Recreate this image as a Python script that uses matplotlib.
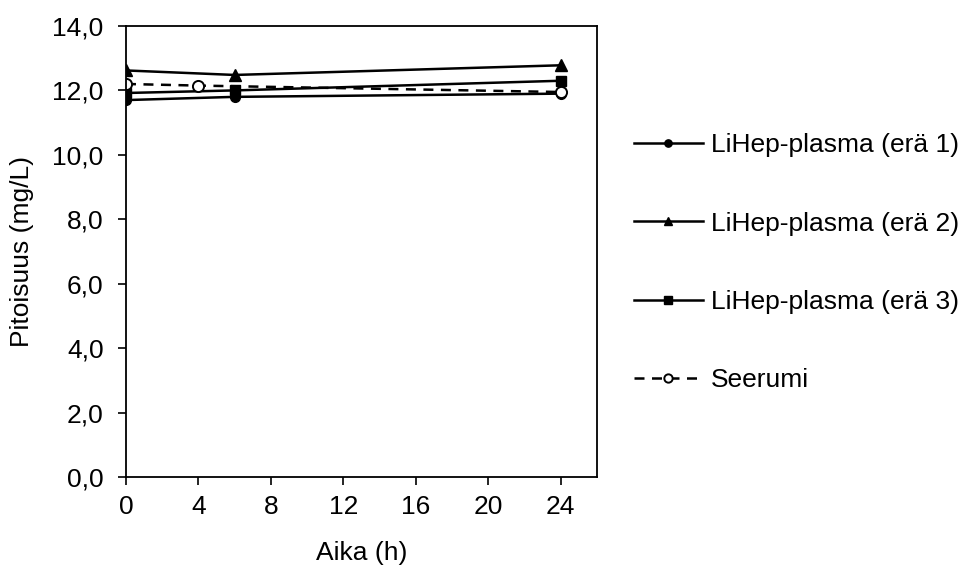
import matplotlib
matplotlib.use('Agg')
import matplotlib.pyplot as plt
from matplotlib.ticker import FuncFormatter

plt.rcParams['font.family'] = ['Liberation Sans', 'DejaVu Sans']

t_plasma = [0, 6, 24]
era1 = [11.70, 11.80, 11.90]
era2 = [12.62, 12.48, 12.78]
era3 = [11.92, 12.00, 12.30]

t_serum = [0, 4, 24]
seerumi = [12.20, 12.15, 11.95]

fig = plt.figure(figsize=(9.63, 5.65), dpi=100)
ax = fig.add_axes([0.1308, 0.1558, 0.4891, 0.7982])

ax.plot(t_plasma, era1, color='black', lw=1.8, marker='o', ms=7, label='LiHep-plasma (erä 1)')
ax.plot(t_plasma, era2, color='black', lw=1.8, marker='^', ms=8, label='LiHep-plasma (erä 2)')
ax.plot(t_plasma, era3, color='black', lw=1.8, marker='s', ms=7, label='LiHep-plasma (erä 3)')
ax.plot(t_serum, seerumi, color='black', lw=1.8, ls=(0, (4, 3)), marker='o', ms=8,
        mfc='white', mec='black', mew=1.4, label='Seerumi')

ax.set_xlim(0, 26)
ax.set_ylim(0, 14)
ax.set_xticks(range(0, 25, 4))
ax.set_yticks([0, 2, 4, 6, 8, 10, 12, 14])
ax.yaxis.set_major_formatter(FuncFormatter(lambda v, p: f'{v:.1f}'.replace('.', ',')))
ax.tick_params(direction='out', length=6, width=1.2, labelsize=19, colors='black')
ax.tick_params(axis='x', pad=7)
ax.tick_params(axis='y', pad=10)
for s in ax.spines.values():
    s.set_linewidth(1.3)

ax.set_xlabel('Aika (h)', fontsize=19, labelpad=16)
ax.set_ylabel('Pitoisuus (mg/L)', fontsize=19, labelpad=13)

ax.legend(loc='upper left', bbox_to_anchor=(1.0786, 0.762), frameon=False, fontsize=19,
          handlelength=2.6, handletextpad=0.3, labelspacing=2.06, borderaxespad=0,
          borderpad=0, markerscale=0.75)

fig.savefig('out.png', dpi=100)
